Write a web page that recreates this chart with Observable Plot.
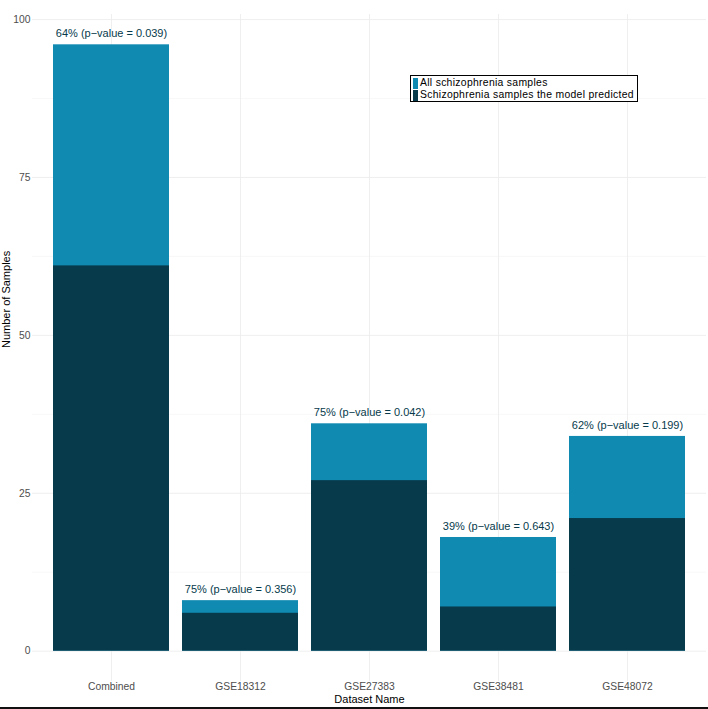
<!DOCTYPE html>
<html>
<head>
<meta charset="utf-8">
<script src="https://cdn.jsdelivr.net/npm/d3@7"></script>
<script src="https://cdn.jsdelivr.net/npm/@observablehq/plot@0.6"></script>
<style>
  html, body { margin: 0; padding: 0; background: #fff; }
  #wrap { position: relative; width: 708px; height: 709px; font-family: "Liberation Sans", Arial, Helvetica, sans-serif; }
  #bottomline { position: absolute; left: 0; top: 707px; width: 708px; height: 2px; background: #111; }
  #legend { position: absolute; left: 410px; top: 75px; width: 226px; height: 25px; border: 1px solid #000; background: #fff; font-size: 10.4px; letter-spacing: 0.3px; color: #000; }
  .row { position: relative; height: 12px; line-height: 12px; white-space: nowrap; }
  .row:first-child { margin-top: 1px; }
  .sw { position: absolute; left: 2px; top: 1px; width: 5px; height: 11px; }
  .lab { position: absolute; left: 9px; top: 0; }
</style>
</head>
<body>
<div id="wrap"><div id="chart"></div><div id="legend"></div><div id="bottomline"></div></div>
<script>
// ---- data ----
const datasets = ["Combined", "GSE18312", "GSE27383", "GSE38481", "GSE48072"];
const totalSamples = [96, 8, 36, 18, 34];
const predictedSamples = [61, 6, 27, 7, 21];
const percentLabels = ["64%", "75%", "75%", "39%", "62%"];
const pValues = ["0.039", "0.356", "0.042", "0.643", "0.199"];
const yTicks = [0, 25, 50, 75, 100];
const yMinorTicks = [12.5, 37.5, 62.5, 87.5];
const seriesNames = ["All schizophrenia samples", "Schizophrenia samples the model predicted"];
const seriesColors = ["#118AB2", "#073B4C"];

const rows = datasets.map((d, i) => ({
  dataset: d,
  total: totalSamples[i],
  predicted: predictedSamples[i],
  label: `${percentLabels[i]} (p\u2212value = ${pValues[i]})`
}));

const chart = Plot.plot({
  width: 708,
  height: 707,
  marginLeft: 32,
  marginRight: 2,
  marginTop: 14,
  marginBottom: 26,
  style: { fontFamily: '"Liberation Sans", Arial, Helvetica, sans-serif', background: "#fff" },
  x: { type: "band", domain: datasets, paddingInner: 0.1, paddingOuter: 0.15, axis: null },
  y: { domain: [-4.8, 100.8], axis: null },
  marks: [
    Plot.gridY(yMinorTicks, { stroke: "#f4f4f4", strokeOpacity: 1, strokeWidth: 0.6 }),
    Plot.gridY(yTicks, { stroke: "#ebebeb", strokeOpacity: 1, strokeWidth: 0.8 }),
    Plot.gridX(datasets, { stroke: "#ebebeb", strokeOpacity: 1, strokeWidth: 0.8 }),
    Plot.barY(rows, { x: "dataset", y: "total", fill: seriesColors[0] }),
    Plot.barY(rows, { x: "dataset", y: "predicted", fill: seriesColors[1] }),
    Plot.text(rows, { x: "dataset", y: "total", text: "label", dy: -11, fill: "#073B4C", fontSize: 11, lineAnchor: "middle" }),
    Plot.axisY(yTicks, { tickSize: 0, tickPadding: 2, fontSize: 10.3, color: "#4d4d4d", label: null }),
    Plot.axisX(datasets, { tickSize: 0, tickPadding: 1.5, fontSize: 10.3, color: "#4d4d4d", label: null }),
    Plot.text(["Dataset Name"], { frameAnchor: "bottom", dy: 18, fontSize: 11, fill: "#000", lineAnchor: "middle" }),
    Plot.text(["Number of Samples"], { frameAnchor: "left", dx: -26, rotate: -90, fontSize: 11, fill: "#000", lineAnchor: "middle" })
  ]
});
document.getElementById("chart").appendChild(chart);

// legend (inside the panel, as in the reference)
const legend = document.getElementById("legend");
seriesNames.forEach((name, i) => {
  const r = document.createElement("div");
  r.className = "row";
  const sw = document.createElement("span");
  sw.className = "sw";
  sw.style.background = seriesColors[i];
  const lab = document.createElement("span");
  lab.className = "lab";
  lab.textContent = name;
  r.appendChild(sw);
  r.appendChild(lab);
  legend.appendChild(r);
});
</script>
</body>
</html>
